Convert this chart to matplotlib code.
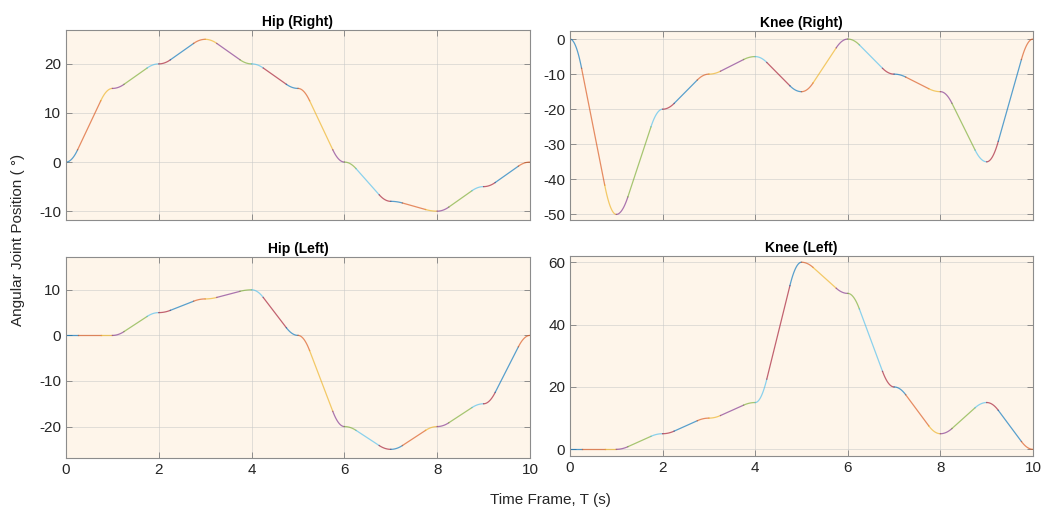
import numpy as np
import matplotlib
matplotlib.use('Agg')
import matplotlib.pyplot as plt

plt.rcParams['font.family'] = ['Liberation Sans', 'DejaVu Sans']
plt.rcParams['axes.unicode_minus'] = False

# Waypoint times and joint angles (deg)
t_way = [0, 1, 2, 3, 4, 5, 6, 7, 8, 9, 10]
hip_right = [0, 15, 20, 25, 20, 15, 0, -8, -10, -5, 0]
knee_right = [0, -50, -20, -10, -5, -15, 0, -10, -15, -35, 0]
hip_left = [0, 0, 5, 8, 10, 0, -20, -25, -20, -15, 0]
knee_left = [0, 0, 5, 10, 15, 60, 50, 20, 5, 15, 0]

titles = ['Hip (Right)', 'Knee (Right)', 'Hip (Left)', 'Knee (Left)']
ylims = [(-11.8, 26.9), (-51.6, 2.3), (-26.9, 17.2), (-2.15, 62)]
yticks = [[-10, 0, 10, 20], [-50, -40, -30, -20, -10, 0], [-20, -10, 0, 10], [0, 20, 40, 60]]

# MATLAB default colour order
colors = ['#0072BD', '#D95319', '#EDB120', '#7E2F8E', '#77AC30', '#4DBEEE', '#A2142F']

bg = '#FEF5EA'
blend = 0.25  # blend fraction of each segment


def lspb_pieces(t0, t1, q0, q1, n=40):
    """ Linear segment with parabolic blends, split in accel / const / decel pieces. """
    T = t1 - t0
    tb = blend * T
    V = (q1 - q0) / (T - tb)
    a = V / tb

    def q(t):
        t = np.asarray(t) - t0
        out = np.where(t < tb, q0 + 0.5 * a * t**2,
              np.where(t < T - tb, q0 + 0.5 * a * tb**2 + V * (t - tb),
                       q1 - 0.5 * a * (T - t)**2))
        return out

    pieces = []
    for s, e in [(0, tb), (tb, T - tb), (T - tb, T)]:
        tt = np.linspace(t0 + s, t0 + e, n)
        pieces.append((tt, q(tt)))
    return pieces


fig = plt.figure(figsize=(10.45, 5.14), dpi=100)
W, H = 1045.0, 514.0

# Axes boxes in pixels: left, top, right, bottom
boxes = [(66, 30, 530, 220), (570, 31, 1033, 220), (66, 257, 530, 458), (570, 256, 1033, 456)]
data = [hip_right, knee_right, hip_left, knee_left]

for k in range(4):
    l, t, r, b = boxes[k]
    ax = fig.add_axes([l / W, 1 - b / H, (r - l) / W, (b - t) / H])
    ax.set_facecolor(bg)

    ci = 0
    q_arr = data[k]
    for i in range(len(t_way) - 1):
        for tt, qq in lspb_pieces(t_way[i], t_way[i + 1], q_arr[i], q_arr[i + 1]):
            ax.plot(tt, qq, color=colors[ci % len(colors)], linewidth=0.9, alpha=0.65)
            ci += 1

    ax.set_xlim(0, 10)
    ax.set_ylim(*ylims[k])
    ax.set_xticks([0, 2, 4, 6, 8, 10])
    ax.set_yticks(yticks[k])
    ax.grid(True, color='#C8C8C8', linewidth=0.7, alpha=0.55)
    ax.set_axisbelow(True)
    ax.tick_params(direction='in', length=4, width=0.6, colors='#7F7F7F', labelcolor='#262626',
                   labelsize=11, top=True, right=True)
    for sp in ax.spines.values():
        sp.set_color('#8C8C8C')
        sp.set_linewidth(0.8)
    if k < 2:
        ax.set_xticklabels([])
    ax.set_title(titles[k], fontsize=10, fontweight='bold', pad=3, color='#000000')

fig.text(18 / W, 1 - 240 / H, 'Angular Joint Position ( °)', rotation=90, ha='center', va='center',
         fontsize=11, color='#262626')
fig.text(550 / W, 1 - 500 / H, 'Time Frame, T (s)', ha='center', va='center', fontsize=11, color='#262626')

fig.savefig('out.png', dpi=100, facecolor='white')
